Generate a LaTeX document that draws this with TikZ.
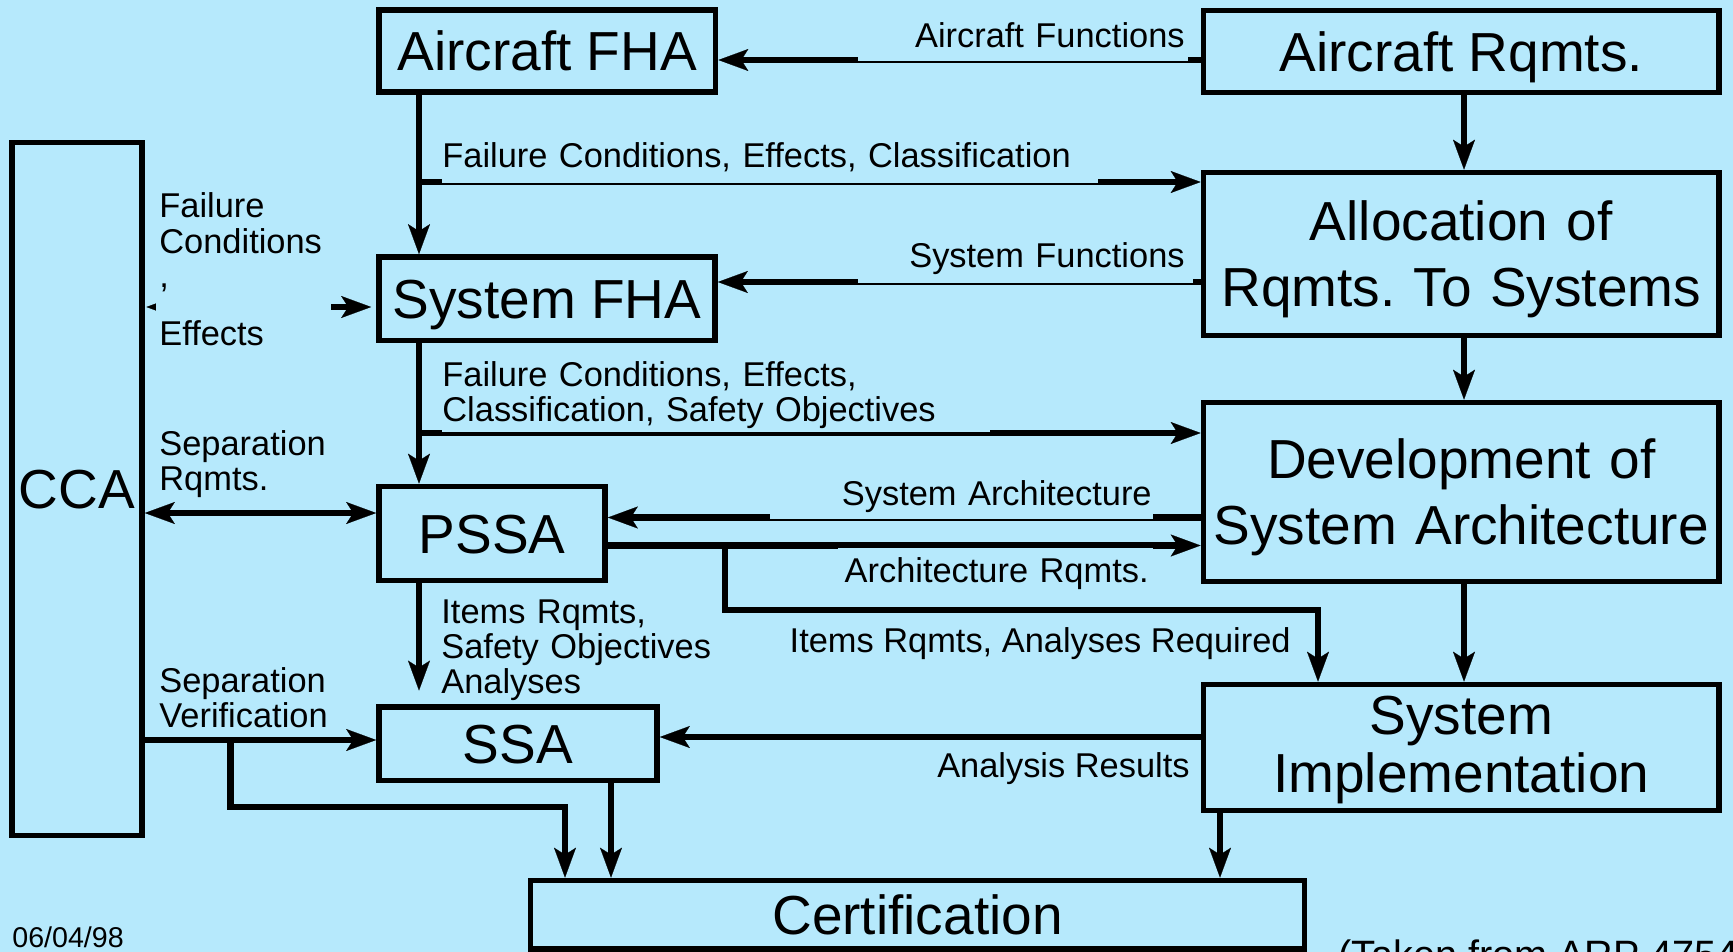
\documentclass[tikz,border=0pt]{standalone}
\usepackage{fontspec}
\setmainfont{Liberation Sans}
\usetikzlibrary{arrows.meta}
\definecolor{bg}{RGB}{182,233,252}
\newcommand\BoxFont{\fontsize{27.5}{33}\selectfont}
\newcommand\LabFont{\fontsize{17.2}{17.5}\selectfont}
\frenchspacing
\begin{document}
\begin{tikzpicture}[x=0.5pt,y=-0.5pt,
  box/.style={draw=black, line width=2.85pt, fill=bg, inner sep=0pt, align=center,
    font=\BoxFont, text height=19.7pt, text depth=0pt},
  conn/.style={draw=black, line width=3.2pt},
  arr/.style={-{Stealth[length=15pt,width=11pt,inset=3.5pt,line width=0.1pt]}},
  darr/.style={{Stealth[length=15pt,width=11pt,inset=3.5pt,line width=0.1pt]}-{Stealth[length=15pt,width=11pt,inset=3.5pt,line width=0.1pt]}},
  lab/.style={font=\LabFont, inner sep=0pt},
  cover/.style={lab, fill=bg}]
% background and frame
\fill[bg] (0,0) rectangle (1733,952);
\useasboundingbox (0,0) rectangle (1733,952);

% boxes
\node[box, minimum width=168.25pt, minimum height=41pt] (AFHA) at (547.25,51) {Aircraft FHA};
\node[box, minimum width=257.75pt, minimum height=41pt] (ARQ) at (1461.25,51.5) {Aircraft Rqmts.};
\node[box, minimum width=257.75pt, minimum height=81.5pt, text width=255pt, text depth=33pt] (ALLOC) at (1461.25,254) {Allocation of\\Rqmts. To Systems};
\node[box, minimum width=168pt, minimum height=41.75pt] (SFHA) at (547,298.75) {System FHA};
\node[box, minimum width=65pt, minimum height=346.5pt] (CCA) at (77,489) {CCA};
\node[box, minimum width=257.75pt, minimum height=89.5pt, text width=255pt, text depth=33pt] (DEV) at (1461.25,492) {Development of\\System Architecture};
\node[box, minimum width=113pt, minimum height=47pt] (PSSA) at (492,533.5) {PSSA};
\node[box, minimum width=257.75pt, minimum height=63pt, text width=255pt, text depth=32.3pt, font=\fontsize{27.5}{29}\selectfont] (SYSIMP) at (1461.25,747.5) {System\\Implementation};
\node[box, minimum width=139pt, minimum height=36.75pt] (SSA) at (518,743.75) {SSA};
\node[box, minimum width=387pt, minimum height=34.25pt] (CERT) at (917.5,914.75) {Certification};

% helper coordinates
\coordinate (xV) at (419,0);
\coordinate (xR) at (1464,0);
\coordinate (yAF) at (0,60);
\coordinate (yFC) at (0,182);
\coordinate (ySF) at (0,282);
\coordinate (yFS) at (0,307);
\coordinate (yFC2) at (0,433);
\coordinate (ySR) at (0,513);
\coordinate (ySA) at (0,517.5);
\coordinate (yAR) at (0,545.5);
\coordinate (xBr) at (725,0);
\coordinate (yIt) at (0,610);
\coordinate (xIt) at (1318,0);
\coordinate (yAn) at (0,737);
\coordinate (ySV) at (0,740);
\coordinate (xSV) at (230.5,0);
\coordinate (ySV2) at (0,807);
\coordinate (xSV2) at (565,0);
\coordinate (xSC) at (611,0);
\coordinate (xIC) at (1220,0);

% connectors
\draw[conn,arr] (ARQ.west|-yAF) -- (AFHA.east|-yAF);
\draw[conn,arr] (AFHA.south-|xV) -- (SFHA.north-|xV);
\draw[conn,arr] (xV|-yFC) -- (ALLOC.west|-yFC);
\draw[conn,arr] (ARQ.south-|xR) -- (ALLOC.north-|xR);
\draw[conn,arr] (ALLOC.west|-ySF) -- (SFHA.east|-ySF);
\draw[conn,arr] (SFHA.south-|xV) -- (PSSA.north-|xV);
\draw[conn,arr] (xV|-yFC2) -- (DEV.west|-yFC2);
\draw[conn,arr] (ALLOC.south-|xR) -- (DEV.north-|xR);
\draw[conn,darr,shorten <=0.75pt,shorten >=2.5pt] (CCA.east|-yFS) -- (SFHA.west|-yFS);
\draw[conn,darr] (CCA.east|-ySR) -- (PSSA.west|-ySR);
\draw[conn,arr] (DEV.west|-ySA) -- (PSSA.east|-ySA);
\draw[conn,arr] (PSSA.east|-yAR) -- (DEV.west|-yAR);
\draw[conn,arr] (xBr|-yAR) -- (xBr|-yIt) -- (xIt|-yIt) -- (SYSIMP.north-|xIt);
\draw[conn,arr] (DEV.south-|xR) -- (SYSIMP.north-|xR);
\draw[conn,arr,shorten >=6.8pt] (PSSA.south-|xV) -- (SSA.north-|xV);
\draw[conn,arr] (CCA.east|-ySV) -- (SSA.west|-ySV);
\draw[conn,arr] (xSV|-ySV) -- (xSV|-ySV2) -- (xSV2|-ySV2) -- (CERT.north-|xSV2);
\draw[conn,arr] (SSA.south-|xSC) -- (CERT.north-|xSC);
\draw[conn,arr] (SYSIMP.west|-yAn) -- (SSA.east|-yAn);
\draw[conn,arr] (SYSIMP.south-|xIC) -- (CERT.north-|xIC);

% labels
\node[cover, anchor=base east, inner xsep=1.5pt, text width=162pt, align=right, text depth=6.5pt] (lAF) at (1188,48) {Aircraft Functions};
\node[cover, anchor=base west, inner xsep=0pt, text width=328pt, align=left, text depth=7.5pt] (lFC) at (442,168) {Failure Conditions, Effects, Classification};
\node[cover, anchor=base east, inner xsep=4pt, text width=159.5pt, align=right, text depth=8pt] (lSF) at (1193,267) {System Functions};
\node[cover, anchor=base west, inner xsep=0pt, text width=274pt, align=left, text depth=22.75pt] (lFC2) at (442,386) {Failure Conditions, Effects,\\Classification, Safety Objectives};
\node[cover, anchor=base east, inner xsep=0.5pt, text width=190.5pt, align=right, text depth=6.75pt] (lSA) at (1153,505) {System Architecture};
\node[cover, anchor=base east, inner xsep=2pt, text width=153.5pt, align=right, text height=17.25pt] (lAR) at (1153,582) {Architecture Rqmts.};
\node[lab, anchor=base east] (lIt) at (1291,652) {Items Rqmts, Analyses Required};
\node[lab, anchor=base east] (lAn) at (1190,777) {Analysis Results};
\node[lab, anchor=base west, text width=140pt, align=left] (lIR) at (441,623) {Items Rqmts,\\Safety Objectives\\Analyses};
\node[lab, anchor=base west, text width=90pt, align=left] (lSR) at (159,455) {Separation\\Rqmts.};
\node[lab, anchor=base west, text width=90pt, align=left] (lSV) at (159,692) {Separation\\Verification};
\node[cover, anchor=base west, inner xsep=1.5pt, text width=84.5pt, align=left] (lFE) at (156,218) {Failure\\Conditions\\,\\[11pt]Effects};
\node[lab, font=\fontsize{14.3}{17}\selectfont, anchor=base west] (date) at (12,947) {06/04/98};
\node[lab, font=\fontsize{19.8}{24}\selectfont, anchor=base west] (src) at (1338,968.5) {(Taken from ARP 4754};
\end{tikzpicture}
\end{document}
